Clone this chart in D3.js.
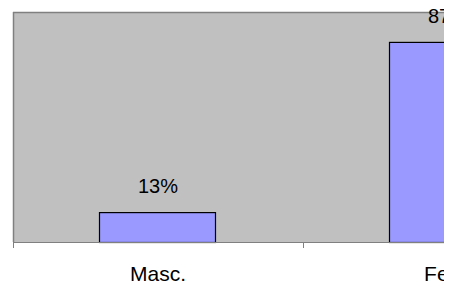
<!DOCTYPE html>
<html><head><meta charset="utf-8">
<script src="https://cdn.jsdelivr.net/npm/d3@7"></script>
<style>html,body{margin:0;padding:0;background:#fff;}svg{display:block;}</style>
</head><body>
<svg id="c" width="462" height="294"></svg>
<script>
const categories = ["Masc.", "Fem."];
const values = [13, 87];
const valueLabels = ["13%", "87%"];

const svg = d3.select("#c");
const mLeft = 13, mTop = 12, mBottom = 242, fullRight = 593, visibleRight = 444;

svg.append("defs").append("clipPath").attr("id","clip")
  .append("rect").attr("x",0).attr("y",0).attr("width",visibleRight).attr("height",294);

const g = svg.append("g").attr("clip-path","url(#clip)");

const x = d3.scaleBand().domain(categories).range([mLeft, fullRight]).paddingInner(0.6).paddingOuter(0.3);
const xOuter = d3.scaleBand().domain(categories).range([mLeft, fullRight]);
const y = d3.scaleLinear().domain([0, 100]).range([mBottom, mTop]);

g.append("rect").attr("x",mLeft).attr("y",mTop).attr("width",fullRight-mLeft).attr("height",mBottom-mTop)
  .attr("fill","#C0C0C0");
g.append("line").attr("x1",mLeft).attr("x2",fullRight).attr("y1",mTop+0.5).attr("y2",mTop+0.5)
  .attr("stroke","#808080").attr("stroke-width",1.5);
g.append("line").attr("x1",mLeft+0.5).attr("x2",mLeft+0.5).attr("y1",mTop).attr("y2",mBottom)
  .attr("stroke","#808080").attr("stroke-width",1.5);

g.selectAll("rect.bar").data(values).enter().append("rect").attr("class","bar")
  .attr("x",(d,i)=>x(categories[i])-0.5)
  .attr("y",d=>y(d)+0.5)
  .attr("width",x.bandwidth())
  .attr("height",d=>mBottom-y(d))
  .attr("fill","#9999FF").attr("stroke","#000").attr("stroke-width",1.2);

const ax = g.append("g").attr("transform",`translate(0,${mBottom})`);
const ticks = [mLeft, ...categories.map(c=>xOuter(c)+xOuter.bandwidth())];
ax.selectAll("line.t").data(ticks).enter().append("line")
  .attr("x1",d=>d+0.5).attr("x2",d=>d+0.5).attr("y1",0).attr("y2",6).attr("stroke","#808080");
ax.append("line").attr("x1",mLeft).attr("x2",fullRight).attr("y1",0.5).attr("y2",0.5)
  .attr("stroke","#808080").attr("stroke-width",1);

g.selectAll("text.cat").data(categories).enter().append("text").attr("class","cat")
  .attr("x",d=>xOuter(d)+xOuter.bandwidth()/2).attr("y",281)
  .attr("text-anchor","middle").attr("font-family","Liberation Sans, Arial, sans-serif")
  .attr("font-size",21).attr("fill","#000").text(d=>d);

g.selectAll("text.val").data(values).enter().append("text").attr("class","val")
  .attr("x",(d,i)=>xOuter(categories[i])+xOuter.bandwidth()/2).attr("y",d=>y(d)-19)
  .attr("text-anchor","middle").attr("font-family","Liberation Sans, Arial, sans-serif")
  .attr("font-size",20).attr("fill","#000").text((d,i)=>valueLabels[i]);
</script>
</body></html>
